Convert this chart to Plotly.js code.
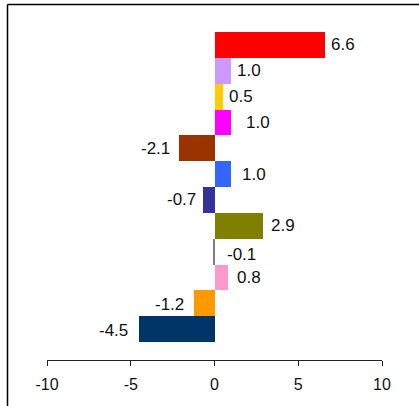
<!DOCTYPE html>
<html>
<head>
<meta charset="utf-8">
<script src="https://cdn.plot.ly/plotly-3.0.1.min.js"></script>
<style>
html,body{margin:0;padding:0;background:#fff;overflow:hidden;}
#chart{width:419px;height:406px;}
</style>
</head>
<body>
<div id="chart"></div>
<script>
// ---- data ----
const categories = ['c1','c2','c3','c4','c5','c6','c7','c8','c9','c10','c11','c12'];
const values = [6.6, 1.0, 0.5, 1.0, -2.1, 1.0, -0.7, 2.9, -0.1, 0.8, -1.2, -4.5];
const valueLabels = ['6.6','1.0','0.5','1.0','-2.1','1.0','-0.7','2.9','-0.1','0.8','-1.2','-4.5'];
const tickValues = [-10, -5, 0, 5, 10];
const tickLabels = ['-10', '-5', '0', '5', '10'];

// ---- styles ----
const barColors = ['#FF0000','#CC99FF','#FFCC00','#FF00FF','#993300','#3366FF',
                   '#333399','#808000','#808080','#FF99CC','#FF9900','#003366'];
const labelNudgeX = [6, 6, 6.5, 15, -9, 11, -6.5, 8, 14, 9.5, -10, -11.5];
const labelNudgeY = [0, 0, 0, 0, 0, 0, 0, 0, -3, 0, -1, -1];

const FONT = 'Liberation Sans, Arial, sans-serif';

const trace = {
  type: 'bar',
  orientation: 'h',
  x: values,
  y: categories,
  marker: {color: barColors, line: {width: 0}},
  hoverinfo: 'none'
};

const annotations = values.map((v, i) => ({
  x: v,
  y: categories[i],
  xref: 'x',
  yref: 'y',
  text: valueLabels[i],
  showarrow: false,
  xanchor: labelNudgeX[i] >= 0 ? 'left' : 'right',
  yanchor: 'middle',
  xshift: labelNudgeX[i],
  yshift: labelNudgeY[i],
  borderpad: 0,
  borderwidth: 0,
  font: {family: FONT, size: 17, color: '#111'}
}));

const L = 47, R = 37, T = 32, B = 46, W = 419, H = 406;
const pw = W - L - R, ph = H - T - B;
const px2x = p => (p - L) / pw;
const py2y = p => (H - B - p) / ph;
// outer frame (top and left edges, the rest lies outside the picture)
const frameTop = {
  type: 'line', xref: 'paper', yref: 'paper',
  x0: px2x(7.5), x1: px2x(419), y0: py2y(4.5), y1: py2y(4.5),
  line: {color: '#000', width: 1.5}, layer: 'below'
};
const frameLeft = {
  type: 'line', xref: 'paper', yref: 'paper',
  x0: px2x(7.5), x1: px2x(7.5), y0: py2y(4.5), y1: py2y(406),
  line: {color: '#000', width: 1.5}, layer: 'below'
};

const layout = {
  width: W, height: H,
  margin: {l: L, r: R, t: T, b: B, pad: 0},
  paper_bgcolor: '#fff',
  plot_bgcolor: '#fff',
  showlegend: false,
  bargap: 0,
  font: {family: FONT, size: 16, color: '#111'},
  xaxis: {
    range: [-10, 10],
    tickvals: tickValues,
    ticktext: tickLabels,
    showgrid: false,
    zeroline: false,
    showline: true,
    linecolor: '#222',
    linewidth: 1,
    ticks: 'outside',
    ticklen: 5,
    tickwidth: 1,
    tickcolor: '#222',
    ticklabelstandoff: 5,
    tickfont: {family: FONT, size: 16, color: '#111'},
    fixedrange: true
  },
  yaxis: {
    type: 'category',
    categoryorder: 'array',
    categoryarray: categories,
    range: [12.197, -0.5],
    showgrid: false,
    zeroline: false,
    showline: false,
    showticklabels: false,
    ticks: '',
    fixedrange: true
  },
  annotations: annotations,
  shapes: [frameTop, frameLeft]
};

Plotly.newPlot('chart', [trace], layout, {displayModeBar: false, staticPlot: true});
</script>
</body>
</html>
